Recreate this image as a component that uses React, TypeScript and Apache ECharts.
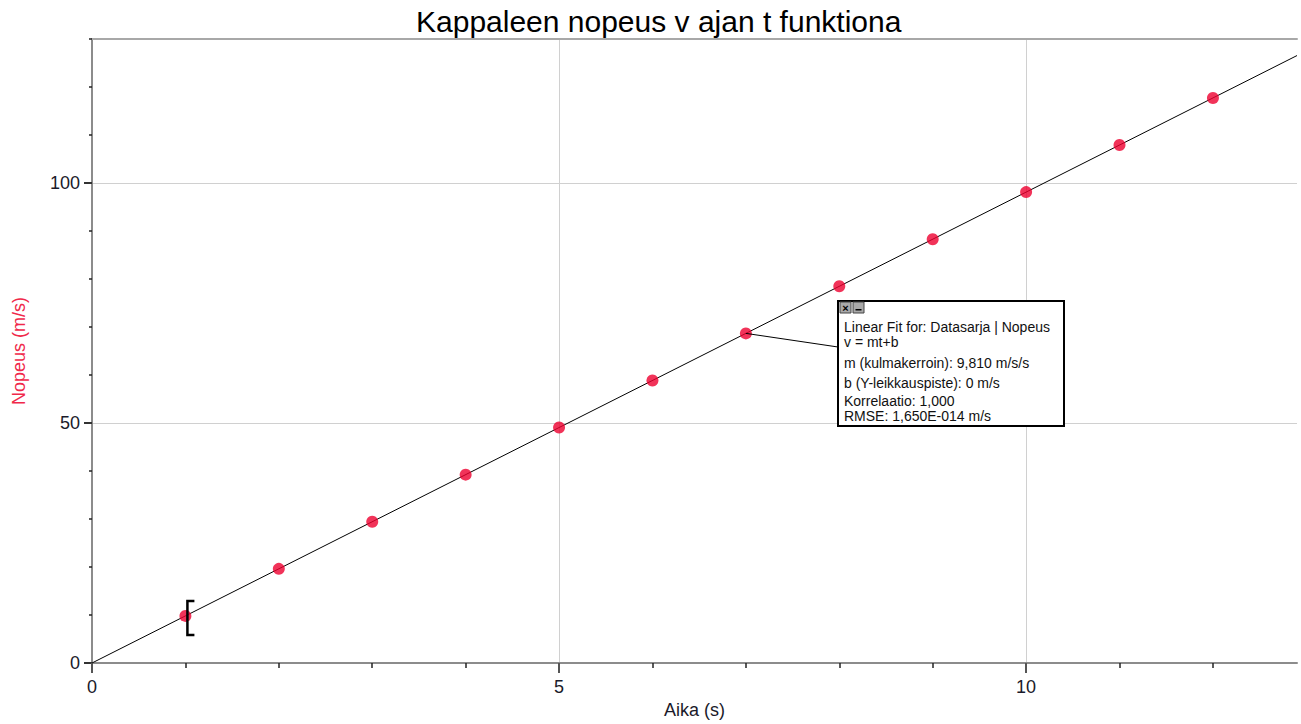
import React, { useEffect, useRef } from "react";
import * as echarts from "echarts";

const timeValues = [1, 2, 3, 4, 5, 6, 7, 8, 9, 10, 11, 12];
const speedValues = [9.81, 19.62, 29.43, 39.24, 49.05, 58.86, 68.67, 78.48, 88.29, 98.1, 107.91, 117.72];
const fitLine = [
  [0, 0],
  [12.9, 126.55],
];
const xMajorTicks = [0, 5, 10];
const xMinorTicks = [1, 2, 3, 4, 6, 7, 8, 9, 11, 12];
const yMajorTicks = [0, 50, 100];
const yMinorTicks = [10, 20, 30, 40, 60, 70, 80, 90, 110, 120, 130];
const fitLines = [
  "Linear Fit for: Datasarja | Nopeus",
  "v = mt+b",
  "m (kulmakerroin): 9,810 m/s/s",
  "b (Y-leikkauspiste): 0 m/s",
  "Korrelaatio: 1,000",
  "RMSE: 1,650E-014 m/s",
];
const bracketIndex = 0;
const leaderIndex = 6;

const FONT = "'Liberation Sans', Arial, sans-serif";
const X_MAX = 12.9;
const Y_MAX = 130;

export default function App() {
  const ref = useRef<HTMLDivElement>(null);
  useEffect(() => {
    if (!ref.current) return;
    const chart = echarts.init(ref.current, null, { renderer: "svg" });
    const points = timeValues.map((t, i) => [t, speedValues[i]]);
    const axisLineGray = { show: true, lineStyle: { color: "#8c8c8c", width: 2 } };
    const option: any = {
      animation: false,
      backgroundColor: "#ffffff",
      title: {
        text: "Kappaleen nopeus v ajan t funktiona",
        left: 411,
        top: 1,
        textStyle: { fontFamily: FONT, fontSize: 30, fontWeight: "normal", color: "#000" },
      },
      grid: { left: 92, right: 4, top: 39, bottom: 58 },
      xAxis: [
        {
          type: "value",
          position: "bottom",
          min: 0,
          max: X_MAX,
          axisLine: { ...axisLineGray, onZero: false },
          axisTick: { show: true, length: 10, customValues: xMajorTicks, lineStyle: { color: "#555", width: 2 } },
          axisLabel: {
            customValues: xMajorTicks,
            margin: 15,
            fontFamily: FONT,
            fontSize: 18,
            color: "#1a1a2a",
          },
          splitLine: { show: true, lineStyle: { color: "#d0d0d0", width: 1 } },
          name: "Aika (s)",
          nameLocation: "middle",
          nameGap: 38,
          nameTextStyle: { fontFamily: FONT, fontSize: 18, color: "#1a1a2a" },
        },
        {
          type: "value",
          position: "bottom",
          min: 0,
          max: X_MAX,
          axisLine: { show: false, onZero: false },
          axisTick: { show: true, length: 5, customValues: xMinorTicks, lineStyle: { color: "#222", width: 1.5 } },
          axisLabel: { show: false },
          splitLine: { show: false },
        },
        {
          type: "value",
          position: "top",
          min: 0,
          max: X_MAX,
          axisLine: { show: true, onZero: false, lineStyle: { color: "#a8a8a8", width: 2 } },
          axisTick: { show: false },
          axisLabel: { show: false },
          splitLine: { show: false },
        },
      ],
      yAxis: [
        {
          type: "value",
          position: "left",
          min: 0,
          max: Y_MAX,
          axisLine: { ...axisLineGray, onZero: false },
          axisTick: { show: true, length: 8, customValues: yMajorTicks, lineStyle: { color: "#333", width: 2 } },
          axisLabel: {
            customValues: yMajorTicks,
            margin: 12,
            fontFamily: FONT,
            fontSize: 18,
            color: "#1a1a2a",
          },
          splitLine: { show: true, lineStyle: { color: "#d0d0d0", width: 1 } },
          name: "Nopeus (m/s)",
          nameLocation: "middle",
          nameRotate: 90,
          nameGap: 64,
          nameTextStyle: { fontFamily: FONT, fontSize: 18, color: "#f0284a" },
        },
        {
          type: "value",
          position: "left",
          min: 0,
          max: Y_MAX,
          axisLine: { show: false, onZero: false },
          axisTick: { show: true, length: 3, customValues: yMinorTicks, lineStyle: { color: "#222", width: 1.5 } },
          axisLabel: { show: false },
          splitLine: { show: false },
        },
      ],
      series: [
        {
          type: "line",
          data: fitLine,
          xAxisIndex: 0,
          yAxisIndex: 0,
          showSymbol: false,
          symbol: "none",
          lineStyle: { color: "#000", width: 1 },
          silent: true,
          z: 3,
        },
        {
          type: "scatter",
          data: points,
          xAxisIndex: 0,
          yAxisIndex: 0,
          symbolSize: 12,
          itemStyle: { color: "#ee0030" },
          z: 4,
        },
        {
          type: "custom",
          xAxisIndex: 0,
          yAxisIndex: 0,
          data: [points[bracketIndex]],
          renderItem: (params: any, api: any) => {
            const c = api.coord([api.value(0), api.value(1)]);
            return {
              type: "polyline",
              shape: {
                points: [
                  [c[0] + 9, c[1] - 15],
                  [c[0] + 2, c[1] - 15],
                  [c[0] + 2, c[1] + 19],
                  [c[0] + 9, c[1] + 19],
                ],
              },
              style: { stroke: "#000", lineWidth: 2.5, fill: "none" },
            };
          },
          z: 5,
        },
      ],
    };
    chart.setOption(option);

    const p = chart.convertToPixel({ xAxisIndex: 0, yAxisIndex: 0 }, points[leaderIndex]) as number[];
    const boxX = 838;
    const boxY = 301;
    const boxW = 226;
    const boxH = 125;
    const lineYs = [326.5, 341.5, 362.5, 383, 401, 415.5];
    const graphic: any[] = [
      {
        type: "line",
        shape: { x1: p[0], y1: p[1], x2: boxX, y2: 347 },
        style: { stroke: "#000", lineWidth: 1 },
        z: 10,
      },
      {
        type: "rect",
        shape: { x: boxX + 1, y: boxY + 1, width: boxW, height: boxH },
        style: { fill: "#000" },
        z: 10,
      },
      {
        type: "rect",
        shape: { x: boxX, y: boxY, width: boxW, height: boxH },
        style: { fill: "#fff", stroke: "#000", lineWidth: 2 },
        z: 11,
      },
      {
        type: "rect",
        shape: { x: 840, y: 302, width: 11, height: 11 },
        style: { fill: "#a9a9a9", stroke: "#444", lineWidth: 1 },
        z: 12,
      },
      {
        type: "text",
        x: 845.5,
        y: 307.5,
        style: { text: "×", font: `bold 11px ${FONT}`, fill: "#000", align: "center", verticalAlign: "middle" },
        z: 13,
      },
      {
        type: "rect",
        shape: { x: 853, y: 302, width: 11, height: 11 },
        style: { fill: "#a9a9a9", stroke: "#444", lineWidth: 1 },
        z: 12,
      },
      {
        type: "rect",
        shape: { x: 855.5, y: 309, width: 6, height: 1.5 },
        style: { fill: "#000" },
        z: 13,
      },
      ...fitLines.map((t, i) => ({
        type: "text",
        x: 844,
        y: lineYs[i],
        style: { text: t, font: `14px ${FONT}`, fill: "#111", verticalAlign: "middle" },
        z: 13,
      })),
    ];
    chart.setOption({ graphic });
    return () => chart.dispose();
  }, []);
  return <div ref={ref} style={{ width: 1301, height: 724, position: "absolute", left: 0, top: 0 }} />;
}
